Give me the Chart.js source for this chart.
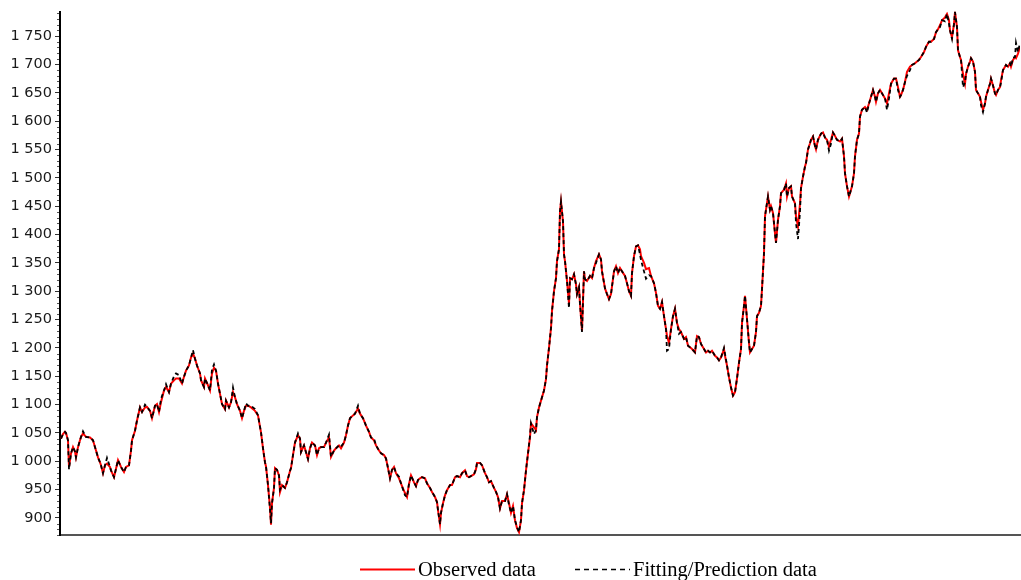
<!DOCTYPE html>
<html>
<head>
<meta charset="utf-8">
<title>Observed vs fitted series</title>
<script src="https://cdn.jsdelivr.net/npm/chart.js@4/dist/chart.umd.min.js"></script>
<style>
  html, body { margin: 0; padding: 0; background: #ffffff; }
  #wrap { position: relative; width: 1021px; height: 580px; overflow: hidden; }
  #chart { position: absolute; left: 0; top: 0; }
  .key { position: absolute; top: 558px; height: 22px; display: flex; align-items: center;
         font-family: "Liberation Serif", "Times New Roman", serif; font-size: 20.5px; color: #000; white-space: nowrap; }
  .key svg { display: block; margin-right: 3px; }
</style>
</head>
<body>
<div id="wrap">
  <canvas id="chart" width="1021" height="580"></canvas>
  <div class="key" style="left:360px;">
    <svg width="55" height="22"><line x1="0" y1="11.5" x2="55" y2="11.5" stroke="#ff0000" stroke-width="2"/></svg>
    <span>Observed data</span>
  </div>
  <div class="key" style="left:575px;">
    <svg width="55" height="22"><line x1="0" y1="11.5" x2="55" y2="11.5" stroke="#000000" stroke-width="1.5" stroke-dasharray="5,4"/></svg>
    <span>Fitting/Prediction data</span>
  </div>
</div>
<script>
// Trading-day index of each sample
const day = [
  1,3,5,6,8,9,11,13,15,16, 18,20,21,23,26,30,33,36,38,40,
  41,43,45,47,50,51,54,56,58,61, 64,66,69,71,72,75,77,80,82,85,
  87,90,92,95,97,99,101,104,106,109, 111,114,116,119,122,124,126,129,131,133,
  135,137,140,141,144,145,148,150,152,154, 156,158,160,162,165,166,169,171,173,175,
  177,180,182,184,186,188,
  191,195,198,201,203,205,206,208,210,211, 212,214,215,217,219,220,222,225,227,230,
  231,233,235,238,240,241,244,246,248,250, 252,255,257,259,261,264,266,269,271,274,
  276,279,281,284,286,288,290,293,295,298, 300,303,306,309,311,314,316,319,321,324,
  326,328,330,332,334,336,339,341,342,345, 347,349,351,354,356,358,360,362,365,367,
  370,372,375,377,
  378,380,381,383,385,387,390,392,395,397, 400,402,405,407,409,411,414,416,417,420,
  422,425,427,429,431,434,436,438,440,442, 445,447,449,451,453,455,457,459,461,462,
  464,466,468,470,471,474,476,477,479,481, 484,486,487,489,491,492,494,496,497,499,
  500,501,503,504,505,507,509,510,512,514, 516,517,519,520,522,524,525,527,530,532,
  534,536,539,541,542,545,547,549,551,554, 556,558,560,562,565,567,
  569,571,572,574,576,578,580,581,584,586, 589,591,594,596,598,600,602,604,606,607,
  609,611,613,615,617,619,621,624,626,628, 630,632,635,637,639,641,644,646,648,650,
  652,655,657,659,661,664,665,667,669,671, 673,675,677,679,681,682,684,685,687,689,
  690,692,694,696,697,699,701,702,704,705, 706,708,710,711,713,715,716,718,720,721,
  724,726,727,729,731,732,735,736,738,740, 741,743,745,746,748,750,751,753,755,756,
  758,761,763,765,767,769,771,773,775,777, 780,782,784,785,787,789,790,792,794,795,
  797,799,800,802,805,807,809,811,813,815, 816,818,820,822,825,827,829,831,834,836,
  838,840,841,843,845,847,850,852,855,857, 859,861,864,866,869,871,874,876,878,880,
  882,885,887,889,890,892,894,895,897,898, 900,901,903,905,906,908,910,911,913,915,
  916,918,920,921,923,925,926,928,930,931, 933,935,936,938,940,941,943,945,946,948,
  950,951,953,955,956,958,960
];

// Observed values
const observed = [
  1040,1048,1052,1050,1037,990,1014,1025,1017,1007, 1025,1037,1043,1049,1043,1042,1037,1019,1007,998,
  993,979,993,996,990,984,972,987,1002,990, 981,990,993,1019,1037,1054,1072,1095,1087,1095,
  1096,1089,1076,1098,1101,1087,1104,1125,1131,1122, 1137,1143,1146,1146,1137,1149,1160,1169,1183,1190,
  1181,1169,1155,1143,1131,1146,1134,1125,1155,1165, 1160,1137,1119,1101,1092,1107,1095,1104,1122,1113,
  1101,1089,1076,1089,1098,1098,
  1095,1089,1081,1051,1023,998,991,958,918,888, 926,953,988,985,975,946,958,953,963,983,
  988,1011,1033,1046,1040,1016,1028,1016,1004,1023, 1033,1028,1011,1023,1025,1025,1033,1042,1008,1019,
  1023,1028,1023,1033,1046,1063,1076,1081,1084,1093, 1084,1076,1063,1052,1042,1037,1028,1019,1014,1011,
  1005,988,970,985,990,979,970,961,956,944, 937,960,975,963,956,967,970,972,970,961,
  953,946,937,928,
  914,889,909,926,940,949,958,958,972,974, 972,979,984,974,972,974,977,986,997,997,
  993,979,972,963,965,953,946,937,917,930, 930,942,926,909,921,896,882,875,896,926,
  949,984,1014,1042,1067,1060,1055,1078,1095,1107, 1125,1145,1169,1200,1235,1265,1300,1323,1353,1374,
  1441,1458,1423,1365,1353,1318,1278,1323,1321,1330, 1312,1295,1307,1278,1230,1335,1321,1318,1327,1323,
  1341,1353,1365,1356,1335,1305,1295,1286,1295,1335, 1344,1332,1341,1335,1327,1314,
  1300,1292,1332,1362,1379,1381,1374,1362,1350,1339, 1341,1327,1314,1297,1274,1269,1281,1256,1233,1221,
  1209,1233,1256,1269,1244,1233,1228,1216,1219,1204, 1201,1198,1192,1221,1219,1207,1198,1192,1195,1192,
  1195,1186,1183,1178,1183,1198,1186,1169,1148,1130, 1116,1122,1146,1174,1198,1244,1274,1292,1251,1209,
  1192,1198,1204,1228,1256,1262,1274,1304,1367,1432, 1444,1467,1444,1450,1438,1402,1385,1426,1450,1473,
  1479,1490,1467,1482,1485,1467,1455,1432,1414,1455, 1482,1502,1520,1526,1550,1561,1567,1573,1556,1550,
  1567,1578,1580,1571,1567,1555,1567,1580,1574,1567, 1564,1569,1538,1508,1485,1467,1473,1485,1508,1538,
  1567,1578,1608,1620,1625,1620,1631,1643,1655,1643, 1634,1649,1655,1649,1640,1631,1649,1666,1675,1675,
  1660,1643,1646,1655,1669,1687,1696,1699,1702,1705, 1708,1713,1722,1731,1740,1740,1745,1757,1762,1769,
  1778,1783,1789,1778,1760,1748,1771,1792,1766,1725, 1713,1708,1683,1666,1683,1696,1705,1711,1705,1687,
  1655,1649,1643,1634,1620,1631,1643,1655,1666,1675, 1663,1649,1646,1655,1660,1672,1690,1696,1699,1696,
  1702,1696,1708,1713,1711,1719,1731
];

// Model output (fitting / prediction)
const fitted = [
  1040,1048,1052,1050,1037,986,1014,1025,1017,1007, 1025,1037,1043,1053,1043,1042,1037,1019,1007,998,
  993,979,993,1006,990,984,972,987,1002,990, 981,990,993,1019,1037,1054,1072,1095,1087,1100,
  1096,1089,1076,1098,1101,1087,1110,1125,1136,1122, 1137,1150,1155,1152,1137,1149,1160,1169,1183,1196,
  1181,1169,1155,1143,1131,1146,1134,1125,1162,1171, 1160,1137,1119,1101,1092,1107,1095,1104,1130,1113,
  1101,1089,1076,1089,1102,1098,
  1098,1092,1081,1051,1023,998,991,958,915,891, 926,953,988,985,975,950,958,953,963,983,
  988,1011,1033,1049,1040,1016,1028,1016,1004,1023, 1033,1028,1011,1023,1025,1025,1033,1047,1008,1019,
  1023,1028,1026,1033,1046,1063,1076,1081,1084,1098, 1084,1076,1063,1052,1042,1040,1028,1019,1014,1011,
  1005,988,970,985,990,979,973,961,956,940, 937,960,975,963,956,967,970,972,970,961,
  953,946,937,928,
  914,889,909,926,940,949,958,958,972,974, 972,979,984,974,972,974,977,986,997,997,
  993,979,972,963,965,953,946,937,917,930, 930,942,923,909,921,896,884,875,896,926,
  949,984,1014,1045,1067,1048,1055,1078,1095,1107, 1125,1145,1169,1200,1235,1265,1300,1323,1353,1374,
  1441,1458,1423,1365,1353,1318,1270,1323,1321,1330, 1312,1295,1307,1278,1228,1335,1321,1318,1327,1323,
  1341,1350,1365,1356,1335,1305,1295,1286,1295,1335, 1344,1332,1341,1335,1327,1314,
  1300,1292,1332,1362,1379,1381,1365,1355,1335,1322, 1328,1327,1314,1297,1274,1269,1281,1256,1233,1195,
  1198,1233,1256,1269,1244,1225,1228,1216,1219,1204, 1201,1198,1192,1221,1219,1207,1198,1192,1195,1192,
  1195,1186,1183,1178,1183,1200,1190,1169,1148,1130, 1116,1122,1146,1174,1198,1244,1274,1292,1251,1209,
  1192,1198,1204,1228,1256,1262,1274,1304,1367,1432, 1444,1467,1444,1450,1438,1402,1385,1426,1450,1473,
  1479,1490,1467,1482,1485,1467,1455,1420,1392,1440, 1482,1502,1520,1526,1550,1561,1567,1573,1556,1550,
  1567,1578,1580,1571,1567,1548,1560,1580,1574,1567, 1564,1569,1538,1508,1485,1467,1473,1485,1508,1538,
  1567,1578,1608,1620,1625,1615,1631,1643,1655,1643, 1634,1649,1655,1649,1640,1620,1640,1666,1675,1675,
  1655,1643,1646,1655,1669,1680,1690,1699,1702,1705, 1708,1713,1722,1731,1740,1740,1745,1757,1762,1766,
  1778,1776,1789,1772,1760,1745,1771,1792,1766,1725, 1713,1708,1660,1668,1683,1696,1705,1711,1705,1687,
  1655,1649,1643,1628,1616,1631,1643,1655,1666,1675, 1663,1649,1646,1655,1660,1668,1690,1696,1699,1696,
  1702,1696,1712,1713,1738,1722,1738
];

// Value axis range and tick spacing
const yMin = 870;
const yMax = 1793;
const yStep = 50;
const yMinorStep = 10;

// "1 750" style labels
function spaced(v) {
  return String(Math.round(v)).replace(/\B(?=(\d{3})+(?!\d))/g, ' ');
}

// Small unlabelled ticks between the major ones on the value axis
const minorTicks = {
  id: 'minorTicks',
  afterDraw(chart) {
    const s = chart.scales.y;
    const ctx = chart.ctx;
    ctx.save();
    ctx.strokeStyle = '#555';
    ctx.lineWidth = 1;
    for (let v = Math.ceil(s.min / yMinorStep) * yMinorStep; v <= s.max; v += yMinorStep) {
      if (v % yStep === 0) continue;
      const py = Math.round(s.getPixelForValue(v)) + 0.5;
      ctx.beginPath();
      ctx.moveTo(s.right - 3, py);
      ctx.lineTo(s.right - 1, py);
      ctx.stroke();
    }
    ctx.restore();
  }
};

new Chart(document.getElementById('chart'), {
  type: 'line',
  data: {
    labels: day,
    datasets: [
      {
        label: 'Observed data',
        data: observed,
        borderColor: '#ff0000',
        borderWidth: 2,
        pointRadius: 0,
        tension: 0,
        order: 1
      },
      {
        label: 'Fitting/Prediction data',
        data: fitted,
        borderColor: '#000000',
        borderWidth: 1.8,
        borderDash: [4, 3],
        pointRadius: 0,
        tension: 0,
        order: 0
      }
    ]
  },
  options: {
    responsive: false,
    animation: false,
    devicePixelRatio: 1,
    layout: { padding: { top: 9, right: 1, bottom: 45, left: 0 } },
    plugins: { legend: { display: false }, tooltip: { enabled: false } },
    scales: {
      x: {
        type: 'linear',
        min: 0,
        max: 960,
        ticks: { display: false },
        grid: { display: false, drawTicks: false },
        border: { display: true, color: '#555555', width: 2 }
      },
      y: {
        min: yMin,
        max: yMax,
        afterFit(scale) { scale.width = 60; },
        ticks: {
          stepSize: yStep,
          includeBounds: false,
          padding: 3,
          color: '#1a1a1a',
          font: { family: 'DejaVu Sans', size: 14.5 },
          callback: (v) => spaced(v)
        },
        grid: { drawOnChartArea: false, drawTicks: true, tickLength: 5, color: '#333333' },
        border: { display: true, color: '#000000', width: 2 }
      }
    }
  },
  plugins: [minorTicks]
});
</script>
</body>
</html>
